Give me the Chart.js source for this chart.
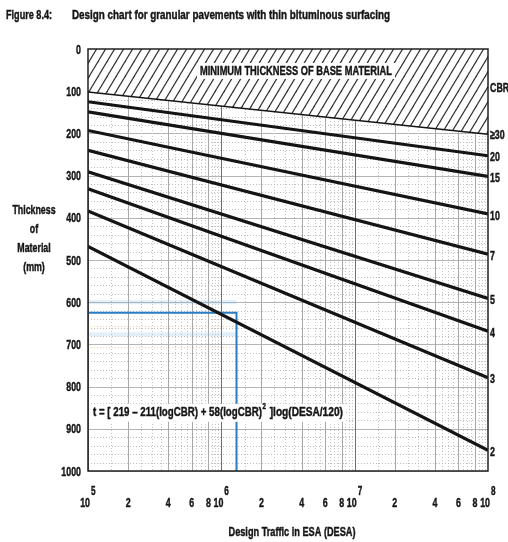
<!DOCTYPE html>
<html>
<head>
<meta charset="utf-8">
<script src="https://cdn.jsdelivr.net/npm/chart.js@4"></script>
<style>
  html, body { margin: 0; padding: 0; background: #fff; }
  canvas { display: block; }
</style>
</head>
<body>
<canvas id="chart" width="508" height="542"></canvas>
<script>
// CBR curves at both ends of the traffic axis
const cbrLabels = ['≥30', '20', '15', '10', '7', '5', '4', '3', '2'];
const trafficRange = [1e5, 1e8];
const thicknessAtMin = [100, 125, 149, 193, 240, 291, 331, 384, 468];
const thicknessAtMax = [200, 253, 302, 391, 486, 591, 669, 779, 951];

// worked example (blue construction lines)
const designTraffic = 1.3e6;
const designThickness = 625;
// faint highlight rows near the example
const blueBandRows = [600, 676];
const orangeDotRows = [657, 706];

// axis ticks
const xTickValues = [1e5, 2e5, 4e5, 6e5, 8e5, 1e6, 2e6, 4e6, 6e6, 8e6, 1e7, 2e7, 4e7, 6e7, 8e7, 1e8];
const yTickStep = 100;

const FONT = '"Liberation Sans", Arial, sans-serif';
const SQUEEZE = 0.68; // the original lettering is a tall condensed face

// draw bold text squeezed horizontally; fitW forces an exact width
function txt(ctx, s, x, y, align, size, fitW) {
    ctx.save();
    ctx.font = 'bold ' + size + 'px ' + FONT;
    ctx.textAlign = 'left';
    ctx.textBaseline = 'middle';
    const raw = ctx.measureText(s).width;
    const sx = fitW ? fitW / raw : SQUEEZE;
    const w = raw * sx;
    const x0 = align === 'center' ? x - w / 2 : align === 'right' ? x - w : x;
    ctx.translate(x0, y);
    ctx.scale(sx, 1);
    ctx.fillStyle = '#151515';
    ctx.strokeStyle = '#151515';
    ctx.lineWidth = 0.45;
    ctx.fillText(s, 0, 0);
    ctx.strokeText(s, 0, 0);
    ctx.restore();
    return w;
}

function makeHatch() {
    const w = 9, h = 15;
    const c = document.createElement('canvas');
    c.width = w; c.height = h;
    const g = c.getContext('2d');
    g.fillStyle = '#fff';
    g.fillRect(0, 0, w, h);
    g.strokeStyle = '#333';
    g.lineWidth = 1.2;
    [-w, 0, w].forEach(off => {
        g.beginPath();
        g.moveTo(off - 1, h + h / w);
        g.lineTo(off + w + 1, -h / w);
        g.stroke();
    });
    return g.createPattern(c, 'repeat');
}

const datasets = [];
// hatched "minimum thickness" zone, from 0 down to the CBR>=30 line
datasets.push({
    data: trafficRange.map(x => ({ x: x, y: 0 })),
    borderWidth: 0,
    pointRadius: 0,
    fill: '+1',
    backgroundColor: makeHatch()
});
cbrLabels.forEach((lab, i) => {
    datasets.push({
        label: 'CBR ' + lab,
        data: [
            { x: trafficRange[0], y: thicknessAtMin[i] },
            { x: trafficRange[1], y: thicknessAtMax[i] }
        ],
        borderColor: '#141414',
        borderWidth: 3.2,
        pointRadius: 0,
        fill: false
    });
});
datasets.push({
    label: 'design',
    data: [
        { x: trafficRange[0], y: designThickness },
        { x: designTraffic, y: designThickness },
        { x: designTraffic, y: 1000 }
    ],
    borderColor: '#2b7cc4',
    borderWidth: 2,
    pointRadius: 0,
    fill: false
});

const decorations = {
    id: 'decorations',
    beforeDatasetsDraw(chart) {
        const ctx = chart.ctx;
        const a = chart.chartArea;
        const xs = chart.scales.x, ys = chart.scales.y;
        ctx.save();
        // horizontal grid
        for (let v = 0; v <= 1000; v += 20) {
            const y = Math.round(ys.getPixelForValue(v)) + 0.5;
            ctx.beginPath();
            if (v % 100 === 0) {
                ctx.setLineDash([]);
                ctx.strokeStyle = '#b4b4b4';
            } else {
                ctx.setLineDash([1, 2]);
                ctx.strokeStyle = '#bdbdbd';
            }
            ctx.lineWidth = 1;
            ctx.moveTo(a.left, y);
            ctx.lineTo(a.right, y);
            ctx.stroke();
        }
        // vertical grid
        for (let e = 5; e < 8; e++) {
            for (let m = 1; m < 10; m += 0.5) {
                const v = m * Math.pow(10, e);
                const x = Math.round(xs.getPixelForValue(v)) + 0.5;
                ctx.beginPath();
                if (m === 1) {
                    ctx.setLineDash([]);
                    ctx.strokeStyle = '#707070';
                } else if (m % 2 === 0) {
                    ctx.setLineDash([]);
                    ctx.strokeStyle = '#a8a8a8';
                } else {
                    ctx.setLineDash([1, 2]);
                    ctx.strokeStyle = '#c4c4c4';
                }
                ctx.moveTo(x, a.top);
                ctx.lineTo(x, a.bottom);
                ctx.stroke();
            }
        }
        ctx.setLineDash([]);
        // faint highlight rows left of the design traffic
        const xEnd = xs.getPixelForValue(designTraffic);
        blueBandRows.forEach(v => {
            ctx.fillStyle = 'rgba(120,180,230,0.22)';
            ctx.fillRect(a.left, ys.getPixelForValue(v) - 2, xEnd - a.left, 4);
        });
        orangeDotRows.forEach(v => {
            ctx.strokeStyle = 'rgba(240,170,90,0.55)';
            ctx.setLineDash([1, 2]);
            ctx.beginPath();
            const y = Math.round(ys.getPixelForValue(v)) + 0.5;
            ctx.moveTo(a.left, y);
            ctx.lineTo(xEnd, y);
            ctx.stroke();
        });
        ctx.restore();
    },
    afterDatasetsDraw(chart) {
        const ctx = chart.ctx;
        const a = chart.chartArea;
        const xs = chart.scales.x, ys = chart.scales.y;
        ctx.save();
        // plot frame
        ctx.strokeStyle = '#222';
        ctx.lineWidth = 1.5;
        ctx.strokeRect(a.left, a.top, a.right - a.left, a.bottom - a.top);

        // label in the hatched band
        const by = ys.getPixelForValue(52);
        ctx.fillStyle = '#fff';
        ctx.fillRect(197, by - 8, 198, 16);
        txt(ctx, 'MINIMUM THICKNESS OF BASE MATERIAL', 200, by, 'left', 13, 192);

        // formula
        const fx = xs.getPixelForValue(1.09e5);
        const fy = ys.getPixelForValue(862);
        ctx.fillStyle = '#fff';
        ctx.fillRect(fx - 3, fy - 9, 256, 18);
        let cx = fx;
        cx += txt(ctx, 't = [ 219 – 211(logCBR) + 58(logCBR)', cx, fy, 'left', 13, 169);
        cx += txt(ctx, '2', cx + 0.5, fy - 6, 'left', 9) + 1.5;
        txt(ctx, ' ]log(DESA/120)', cx, fy, 'left', 13, 76);

        // y tick labels
        ys.ticks.forEach(t => {
            txt(ctx, String(t.value), a.left - 7, ys.getPixelForValue(t.value) + 1, 'right', 13);
        });

        // CBR labels at the right
        txt(ctx, 'CBR', a.right + 2, ys.getPixelForValue(94), 'left', 13);
        cbrLabels.forEach((lab, i) => {
            txt(ctx, lab, a.right + 2, ys.getPixelForValue(thicknessAtMax[i]) + 2, 'left', 13);
        });

        // x tick labels with superscript exponents
        const ty = a.bottom + 32;
        xTickValues.forEach(v => {
            const x = xs.getPixelForValue(v);
            const e = Math.round(Math.log10(v));
            const m = Math.round(v / Math.pow(10, Math.floor(Math.log10(v) + 1e-9)));
            if (m === 1) {
                txt(ctx, '10', x + 2, ty, 'right', 13);
                txt(ctx, String(e), x + 3, ty - 11, 'left', 12);
            } else {
                txt(ctx, String(m), x, ty, 'center', 13);
            }
        });

        // axis titles
        txt(ctx, 'Design Traffic in ESA (DESA)', 292, a.bottom + 61, 'center', 13, 127);
        ['Thickness', 'of', 'Material', '(mm)'].forEach((t, i) => {
            txt(ctx, t, 34, 210 + i * 19, 'center', 13);
        });

        // figure caption
        txt(ctx, 'Figure 8.4:', 6, 15, 'left', 13, 46);
        txt(ctx, 'Design chart for granular pavements with thin bituminous surfacing', 72, 15, 'left', 13, 318);
        ctx.restore();
    }
};

new Chart(document.getElementById('chart'), {
    type: 'line',
    data: { datasets: datasets },
    options: {
        responsive: false,
        animation: false,
        devicePixelRatio: 1,
        layout: { padding: { left: 0, right: 20, top: 49, bottom: 0 } },
        plugins: {
            legend: { display: false },
            tooltip: { enabled: false },
            filler: { propagate: false }
        },
        scales: {
            x: {
                type: 'logarithmic',
                min: trafficRange[0],
                max: trafficRange[1],
                grid: { display: false, drawTicks: false },
                border: { display: false },
                ticks: { display: false },
                afterFit: s => { s.height = 71; }
            },
            y: {
                reverse: true,
                min: 0,
                max: 1000,
                grid: { display: false, drawTicks: false },
                border: { display: false },
                ticks: { display: false, stepSize: yTickStep },
                afterFit: s => { s.width = 88; }
            }
        }
    },
    plugins: [decorations]
});
</script>
</body>
</html>
